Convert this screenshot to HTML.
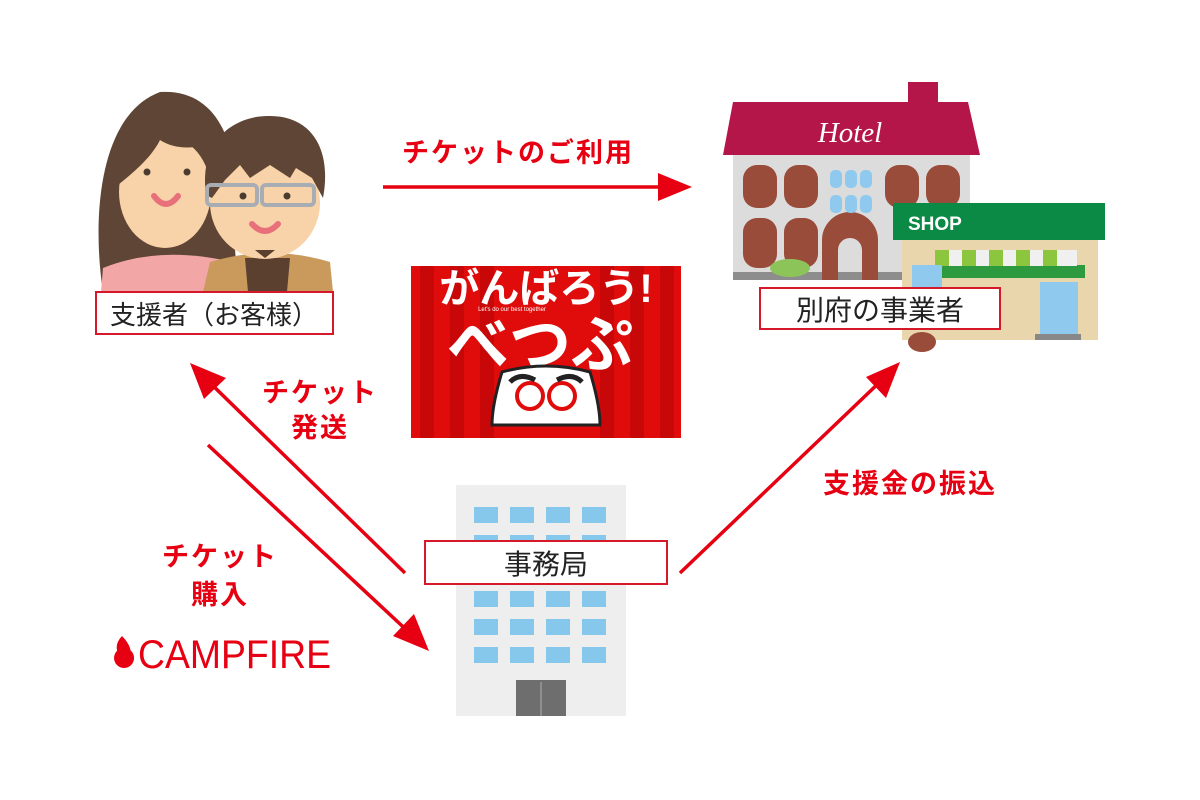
<!DOCTYPE html>
<html><head><meta charset="utf-8"><style>
body{margin:0;background:#fff;width:1200px;height:800px;overflow:hidden}
svg{display:block}
text{font-family:"Liberation Sans","Noto Sans CJK JP",sans-serif}
</style></head><body>
<svg width="1200" height="800" viewBox="0 0 1200 800" xmlns="http://www.w3.org/2000/svg">
<!-- people -->
<g>
<path d="M103,292 C92,220 98,115 160,92 C220,88 240,150 232,205 L238,292 Z" fill="#5e4536"/>
<ellipse cx="165" cy="192" rx="46" ry="56" fill="#f8d2a8"/>
<path d="M112,190 C112,125 170,100 212,140 C200,150 175,150 160,140 C150,160 130,175 112,190Z" fill="#5e4536"/>
<path d="M103,268 Q160,245 232,262 L236,292 L101,292Z" fill="#f2a6a6"/>
<circle cx="147" cy="172" r="3.5" fill="#4a3a30"/><circle cx="187" cy="172" r="3.5" fill="#4a3a30"/>
<path d="M154,196 Q166,212 178,196" stroke="#e8707a" stroke-width="6" fill="none" stroke-linecap="round"/>
<path d="M210,262 Q270,244 330,262 L333,292 L203,292Z" fill="#c99a5b"/>
<path d="M245,258 L290,258 L287,292 L248,292Z" fill="#5b4030"/>
<ellipse cx="265" cy="203" rx="55" ry="56" fill="#f8d2a8"/>
<path d="M206,195 C198,135 240,115 270,116 C312,116 332,150 323,198 L312,178 L296,168 L290,178 L270,165 L250,178 L240,165 L225,180 L212,198Z" fill="#5e4536"/>
<rect x="207" y="185" width="50" height="20" rx="4" fill="none" stroke="#a8adb3" stroke-width="4"/>
<rect x="262" y="185" width="52" height="20" rx="4" fill="none" stroke="#a8adb3" stroke-width="4"/>
<circle cx="243" cy="196" r="3.5" fill="#4a3a30"/><circle cx="287" cy="196" r="3.5" fill="#4a3a30"/>
<path d="M252,224 Q265,238 278,224" stroke="#e8707a" stroke-width="6" fill="none" stroke-linecap="round"/>
<path d="M255,250 L275,250 L265,258Z" fill="#5b4030"/>
</g>
<rect x="96" y="292" width="237" height="42" fill="#fff" stroke="#d7182a" stroke-width="2"/>
<text x="214" y="324" font-size="26" text-anchor="middle" fill="#222">支援者（お客様）</text>

<!-- hotel -->
<rect x="908" y="82" width="30" height="25" fill="#b5164a"/>
<polygon points="733,102 968,102 980,155 723,155" fill="#b5164a"/>
<text x="850" y="142" font-size="29" fill="#fff" text-anchor="middle" style="font-family:'Liberation Serif',serif;font-style:italic">Hotel</text>
<rect x="733" y="155" width="237" height="118" fill="#dcdcdc"/>
<rect x="733" y="272" width="237" height="8" fill="#8d8d8d"/>
<g fill="#9a4c3a">
<rect x="743" y="165" width="34" height="43" rx="14"/><rect x="784" y="165" width="34" height="43" rx="14"/>
<rect x="885" y="165" width="34" height="43" rx="14"/><rect x="926" y="165" width="34" height="43" rx="14"/>
<rect x="743" y="218" width="34" height="50" rx="14"/><rect x="784" y="218" width="34" height="50" rx="14"/>
<path d="M822,280 L822,240 A28,28 0 0 1 878,240 L878,280 L862,280 L862,250 A12,12 0 0 0 838,250 L838,280Z"/>
</g>
<g fill="#8fcaee"><rect x="830" y="170" width="12" height="18" rx="5"/><rect x="845" y="170" width="12" height="18" rx="5"/><rect x="860" y="170" width="12" height="18" rx="5"/>
<rect x="830" y="195" width="12" height="18" rx="5"/><rect x="845" y="195" width="12" height="18" rx="5"/><rect x="860" y="195" width="12" height="18" rx="5"/></g>
<ellipse cx="790" cy="268" rx="20" ry="9" fill="#8cc45a"/>
<!-- shop -->
<rect x="902" y="238" width="196" height="102" fill="#ead6ad"/>
<rect x="893" y="203" width="212" height="37" fill="#0a8a45"/>
<text x="908" y="230" font-size="19" font-weight="bold" fill="#fff">SHOP</text>
<rect x="915" y="265" width="170" height="13" fill="#2d9a40"/>
<g fill="#8cc63f"><rect x="935" y="250" width="14" height="16"/><rect x="962" y="250" width="14" height="16"/><rect x="989" y="250" width="14" height="16"/><rect x="1016" y="250" width="14" height="16"/><rect x="1043" y="250" width="14" height="16"/></g>
<g fill="#f0f0f0"><rect x="949" y="250" width="13" height="16"/><rect x="976" y="250" width="13" height="16"/><rect x="1003" y="250" width="13" height="16"/><rect x="1030" y="250" width="13" height="16"/><rect x="1057" y="250" width="20" height="16"/></g>
<rect x="912" y="265" width="30" height="60" fill="#8fcaee"/>
<rect x="1040" y="282" width="38" height="52" fill="#8fcaee"/>
<rect x="1035" y="334" width="46" height="6" fill="#888"/>
<rect x="760" y="288" width="240" height="41" fill="#fff" stroke="#d7182a" stroke-width="2"/>
<text x="880" y="320" font-size="28" text-anchor="middle" fill="#222">別府の事業者</text>
<ellipse cx="922" cy="342" rx="14" ry="10" fill="#9a4c3a"/>

<!-- banner -->
<rect x="411" y="266" width="270" height="172" fill="#e00c0c"/>
<g fill="#c80808"><rect x="420" y="266" width="14" height="172"/><rect x="450" y="266" width="14" height="172"/><rect x="480" y="266" width="14" height="172"/><rect x="600" y="266" width="14" height="172"/><rect x="630" y="266" width="14" height="172"/><rect x="660" y="266" width="14" height="172"/></g>
<text x="546" y="302" font-size="40" font-weight="bold" fill="#fff" text-anchor="middle">がんばろう!</text>
<text x="512" y="311" font-size="6" fill="#fff" text-anchor="middle">Let's do our best together</text>
<text x="540" y="366" font-size="62" font-weight="bold" fill="#fff" text-anchor="middle">べつぷ</text>
<path d="M502,372 Q546,360 590,372 Q600,405 600,425 L492,425 Q492,405 502,372Z" fill="#fff" stroke="#222" stroke-width="3"/>
<circle cx="530" cy="396" r="13" fill="#fff" stroke="#e00c0c" stroke-width="4"/>
<circle cx="562" cy="396" r="13" fill="#fff" stroke="#e00c0c" stroke-width="4"/>
<path d="M510,382 Q520,372 535,380 M557,380 Q572,372 582,382" stroke="#222" stroke-width="5" fill="none"/>

<!-- office building -->
<rect x="456" y="485" width="170" height="231" fill="#eeeeee"/>
<g fill="#86c8ec">
<rect x="474" y="507" width="24" height="16"/><rect x="510" y="507" width="24" height="16"/><rect x="546" y="507" width="24" height="16"/><rect x="582" y="507" width="24" height="16"/>
<rect x="474" y="535" width="24" height="8"/><rect x="510" y="535" width="24" height="8"/><rect x="546" y="535" width="24" height="8"/><rect x="582" y="535" width="24" height="8"/>
<rect x="474" y="591" width="24" height="16"/><rect x="510" y="591" width="24" height="16"/><rect x="546" y="591" width="24" height="16"/><rect x="582" y="591" width="24" height="16"/>
<rect x="474" y="619" width="24" height="16"/><rect x="510" y="619" width="24" height="16"/><rect x="546" y="619" width="24" height="16"/><rect x="582" y="619" width="24" height="16"/>
<rect x="474" y="647" width="24" height="16"/><rect x="510" y="647" width="24" height="16"/><rect x="546" y="647" width="24" height="16"/><rect x="582" y="647" width="24" height="16"/>
</g>
<rect x="516" y="680" width="50" height="36" fill="#6e6e6e"/>
<line x1="541" y1="682" x2="541" y2="716" stroke="#999" stroke-width="1.5"/>
<rect x="425" y="541" width="242" height="43" fill="#fff" stroke="#d7182a" stroke-width="2"/>
<text x="546" y="574" font-size="28" text-anchor="middle" fill="#222">事務局</text>

<!-- arrows -->
<g stroke="#e60012" stroke-width="3.5" fill="none">
<line x1="383" y1="187" x2="672" y2="187"/>
<line x1="405" y1="573" x2="205" y2="378"/>
<line x1="208" y1="445" x2="414" y2="637"/>
<line x1="680" y1="573" x2="884" y2="378"/>
</g>
<g fill="#e60012">
<polygon points="692,187 658,173 658,201"/>
<polygon points="190,363 226,378 204,399"/>
<polygon points="429,651 393,636 414,614"/>
<polygon points="900,362 886,398 866,377"/>
</g>

<!-- labels -->
<g font-weight="bold" fill="#e60012" font-size="27" letter-spacing="2">
<text x="518" y="162" text-anchor="middle">チケットのご利用</text>
<text x="320" y="402" text-anchor="middle">チケット</text>
<text x="320" y="437" text-anchor="middle">発送</text>
<text x="910" y="493" text-anchor="middle">支援金の振込</text>
<text x="220" y="566" text-anchor="middle">チケット</text>
<text x="220" y="604" text-anchor="middle">購入</text>
</g>
<path d="M124,668 a10,10 0 1 1 0.1,0 Z M122,636 q12,12 8,24 q-10,-8 -12,-6 q-4,-10 4,-18Z" fill="#e60012"/>
<text x="138" y="668" font-size="40" fill="#e60012" textLength="193" lengthAdjust="spacingAndGlyphs">CAMPFIRE</text>
</svg>
</body></html>
